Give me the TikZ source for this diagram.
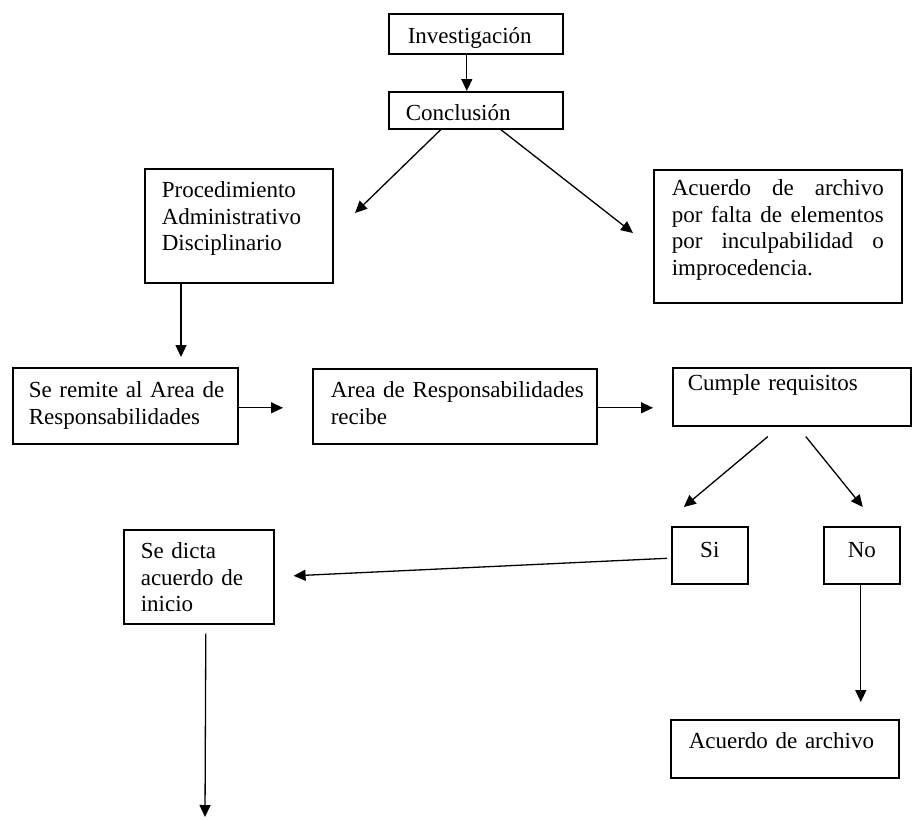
\documentclass[tikz,border=0pt]{standalone}
\usepackage{fontspec}
\setmainfont{Liberation Serif}
\usetikzlibrary{arrows.meta,calc}
\setlength\parindent{0pt}
% one unbroken text line, flush left
\newcommand\boxline[1]{\hbox to\hsize{#1\hss}}
% one text line spread to the full width
\newcommand\fullline[1]{\hbox to\hsize{#1}}
\tikzset{
  stepbox/.style={draw, line width=1.6pt, rectangle, anchor=north west,
    align=left, inner ysep=0pt, font=\fontsize{23}{26.5}\selectfont},
  flow/.style={line width=1.3pt, -{Triangle[length=12pt,width=11pt]}},
}
\begin{document}
\begin{tikzpicture}[x=1pt,y=-1pt]
\useasboundingbox (0,0) rectangle (912,819);

% boxes: top-left corner, width; text height = first baseline below the top edge,
% text depth = rest of the box height
\node[stepbox, minimum width=174pt, inner xsep=19pt, text width=136pt,
  text height=30pt, text depth=10pt]
  (inv) at (388,13) {\boxline{Investigación}};
\node[stepbox, minimum width=174pt, inner xsep=17pt, text width=140pt,
  text height=29pt, text depth=8pt]
  (con) at (388,91) {\boxline{Conclusión}};
\node[stepbox, minimum width=188pt, inner xsep=17pt, text width=154pt,
  text height=29pt, text depth=85pt]
  (proc) at (144,168) {\boxline{Procedimiento}\par\boxline{Administrativo}\par\boxline{Disciplinario}};
\node[stepbox, minimum width=248pt, inner xsep=18pt, text width=212pt,
  text height=26pt, text depth=107pt]
  (arch1) at (653,169) {\fullline{Acuerdo\hfill de\hfill archivo}\par
    \fullline{por\hfill falta\hfill de\hfill elementos}\par
    \fullline{por\hfill inculpabilidad\hfill o}\par
    \boxline{improcedencia.}};
\node[stepbox, minimum width=225pt, inner xsep=16pt, text width=193pt,
  text height=30pt, text depth=46pt]
  (rem) at (12,367) {\boxline{Se remite al Area de}\par\boxline{Responsabilidades}};
\node[stepbox, minimum width=284pt, inner xsep=18pt, text width=248pt,
  text height=29pt, text depth=46pt]
  (rec) at (312,368) {\boxline{Area de Responsabilidades}\par\boxline{recibe}};
\node[stepbox, minimum width=238pt, inner xsep=15pt, text width=208pt,
  text height=23pt, text depth=35pt]
  (cum) at (672,367) {\boxline{Cumple requisitos}};
\node[stepbox, minimum width=76pt, inner xsep=4pt, text width=68pt, align=center,
  text height=31pt, text depth=26pt]
  (si) at (671,526) {Si};
\node[stepbox, minimum width=76pt, inner xsep=4pt, text width=68pt, align=center,
  text height=31pt, text depth=26pt]
  (no) at (823,526) {No};
\node[stepbox, minimum width=228pt, inner xsep=18pt, text width=192pt,
  text height=29pt, text depth=29pt]
  (arch2) at (670,719) {\boxline{Acuerdo de archivo}};
\node[stepbox, minimum width=150pt, inner xsep=17pt, text width=116pt,
  text height=29pt, text depth=65pt]
  (dicta) at (123,529) {\boxline{Se dicta}\par\boxline{acuerdo de}\par\boxline{inicio}};

% free ends of connectors
\coordinate (tipP) at (355,213);
\coordinate (tipA) at (633,233);
\coordinate (exit) at (205,817);

% connectors
\draw[flow] ($(inv.south)+(-9,0)$) -- ($(con.north)+(-9,0)$);
\draw[flow] ($(con.south)+(-35,0)$) -- (tipP);
\draw[flow] ($(con.south)+(25,0)$) -- (tipA);
\draw[flow] ($(proc.south west)+(37,0)$) -- ($(rem.north west)+(169,-10)$);
\draw[flow] ($(rem.east)+(0,2)$) -- ($(rec.west)+(-29,1.5)$);
\draw[flow] ($(rec.east)+(0,1.5)$) -- ($(rec.east -| cum.west)+(-19,1.5)$);
\draw[flow] ($(cum.south)+(-24,10)$) -- ($(si.north)+(-26,-19)$);
\draw[flow] ($(cum.south)+(14,10)$) -- ($(no.north)+(1,-19)$);
\draw[flow] ($(si.west)+(-4,3)$) -- ($(dicta.east)+(19,-1)$);
\draw[flow] ($(no.south)+(-1,0)$) -- ($(no.south |- arch2.north)+(-1,-17)$);
\draw[flow] ($(dicta.south)+(7,9)$) -- (exit);
\end{tikzpicture}
\end{document}
